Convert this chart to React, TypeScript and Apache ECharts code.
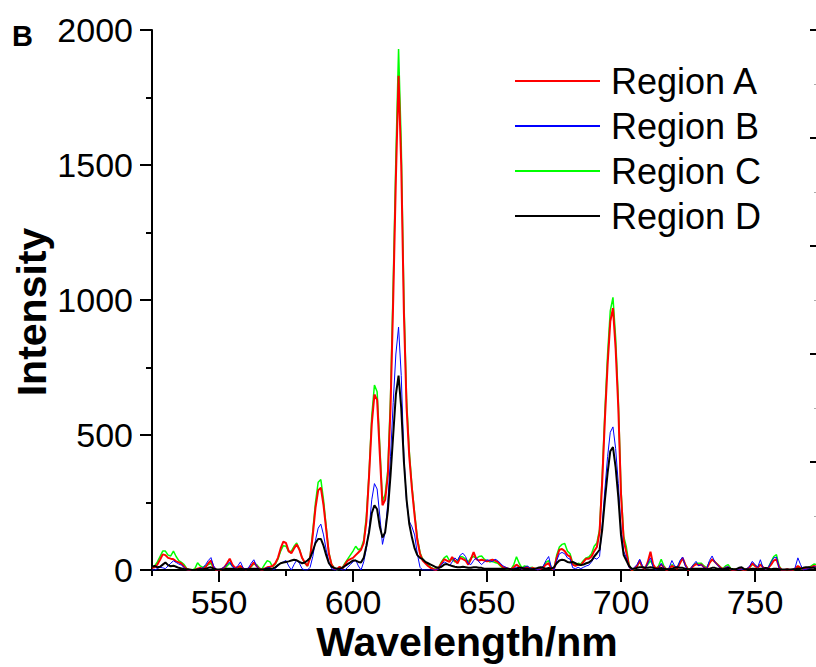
import React, { useEffect, useRef } from "react";
import * as echarts from "echarts";

const START_NM = 525;

// Region A (red)  525..775 nm, 1 nm steps
const regionA = [
  8, 10, 20, 38, 58, 55, 45, 42, 40, 32,
  28, 24, 12, 3, 0, 0, 0, 5, 8, 3,
  10, 25, 35, 10, 0, 0, 3, 10, 25, 42,
  20, 8, 10, 15, 5, 3, 5, 15, 28, 15,
  5, 0, 5, 10, 12, 15, 25, 45, 80, 105,
  100, 70, 62, 80, 95, 75, 45, 28, 15, 45,
  130, 230, 295, 305, 240, 150, 60, 20, 5, 3,
  12, 5, 20, 35, 40, 45, 55, 65, 75, 100,
  180, 350, 540, 650, 630, 430, 240, 260, 350, 600,
  1000, 1450, 1830, 1500, 950, 600, 420, 300, 200, 110,
  60, 35, 25, 15, 8, 3, 0, 8, 25, 40,
  35, 30, 48, 35, 25, 45, 40, 35, 20, 40,
  66, 40, 35, 38, 35, 32, 35, 38, 35, 30,
  20, 10, 8, 5, 3, 10, 20, 12, 5, 8,
  10, 5, 8, 5, 3, 5, 10, 20, 25, 5,
  3, 45, 75, 78, 70, 55, 50, 20, 15, 20,
  18, 30, 42, 42, 50, 70, 85, 140, 330, 560,
  760, 920, 970, 820, 600, 280, 110, 65, 15, 0,
  5, 15, 35, 10, 5, 30, 68, 20, 5, 10,
  20, 10, 0, 5, 15, 10, 5, 25, 45, 20,
  0, 5, 15, 22, 18, 20, 10, 5, 25, 40,
  30, 20, 10, 3, 8, 10, 3, 0, 3, 5,
  3, 0, 3, 10, 25, 15, 8, 20, 10, 5,
  8, 20, 35, 40, 10, 0, 0, 3, 0, 0,
  5, 15, 8, 3, 5, 8, 10, 15, 12, 10,
  8,
];

// Region B (blue)
const regionB = [
  0, 0, 5, 10, 8, 5, 15, 25, 34, 28,
  22, 18, 10, 0, 0, 0, 0, 3, 5, 8,
  20, 35, 46, 15, 0, 0, 5, 12, 20, 30,
  12, 5, 15, 30, 8, 3, 8, 25, 38, 15,
  3, 0, 5, 8, 10, 0, 5, 15, 25, 30,
  35, 15, 0, 20, 37, 25, 5, 0, 0, 10,
  50, 110, 155, 170, 130, 75, 30, 5, 0, 0,
  5, 0, 0, 10, 20, 30, 37, 15, 0, 30,
  80, 150, 260, 320, 300, 200, 95, 140, 250, 420,
  620, 800, 900, 720, 420, 250, 180, 160, 130, 60,
  10, 0, 0, 0, 0, 0, 0, 5, 20, 30,
  25, 15, 30, 45, 35, 55, 62, 50, 25, 20,
  35, 45, 30, 20, 30, 38, 35, 30, 40, 35,
  25, 15, 10, 5, 0, 5, 10, 8, 3, 10,
  15, 8, 5, 3, 0, 5, 15, 35, 50, 10,
  0, 35, 60, 65, 60, 45, 40, 8, 5, 10,
  5, 10, 15, 18, 30, 45, 40, 50, 170, 300,
  420, 510, 530, 450, 320, 150, 70, 45, 10, 0,
  10, 20, 40, 15, 5, 25, 45, 10, 0, 5,
  25, 8, 0, 10, 35, 15, 10, 35, 48, 15,
  0, 5, 20, 32, 15, 20, 8, 5, 35, 52,
  30, 18, 8, 3, 10, 12, 3, 0, 2, 3,
  3, 0, 5, 15, 32, 20, 10, 38, 8, 3,
  10, 30, 45, 48, 8, 0, 0, 3, 0, 0,
  10, 45, 20, 0, 3, 5, 8, 12, 10, 8,
  5,
];

// Region C (green)
const regionC = [
  10, 15, 30, 50, 70, 70, 55, 52, 70, 50,
  35, 28, 20, 5, 0, 0, 5, 27, 15, 10,
  15, 20, 25, 8, 0, 0, 3, 5, 15, 25,
  15, 5, 5, 10, 3, 3, 5, 12, 22, 20,
  8, 3, 20, 35, 30, 12, 22, 40, 70, 90,
  88, 68, 70, 88, 100, 78, 45, 25, 15, 50,
  145, 250, 325, 335, 260, 160, 65, 22, 8, 0,
  10, 8, 25, 40, 55, 70, 88, 75, 80, 110,
  200, 360, 570, 685, 660, 460, 255, 280, 370, 640,
  1060, 1530, 1930, 1580, 1000, 630, 440, 310, 210, 120,
  65, 40, 30, 20, 10, 5, 3, 10, 30, 45,
  52, 35, 40, 30, 35, 50, 48, 40, 30, 45,
  50, 42, 50, 52, 40, 35, 30, 32, 28, 25,
  15, 8, 5, 3, 3, 20, 49, 25, 8, 15,
  12, 8, 10, 5, 3, 8, 12, 28, 35, 8,
  3, 55, 85, 95, 98, 70, 60, 25, 18, 25,
  22, 35, 45, 48, 60, 88, 100, 150, 350, 590,
  800, 960, 1010, 860, 630, 300, 125, 85, 20, 0,
  3, 15, 30, 10, 8, 20, 35, 15, 5, 15,
  40, 15, 3, 5, 20, 8, 10, 30, 40, 20,
  5, 5, 18, 25, 25, 25, 15, 8, 28, 38,
  30, 22, 12, 5, 15, 20, 5, 3, 3, 5,
  3, 0, 3, 10, 20, 18, 8, 22, 10, 5,
  10, 30, 50, 57, 15, 0, 0, 3, 0, 0,
  3, 10, 5, 3, 5, 10, 15, 22, 20, 15,
  10,
];

// Region D (black)
const regionD = [
  12, 15, 10, 12, 20, 28, 18, 14, 16, 12,
  8, 6, 4, 3, 2, 0, 0, 2, 3, 3,
  5, 8, 10, 5, 3, 2, 2, 3, 5, 5,
  5, 3, 3, 5, 3, 3, 3, 5, 5, 5,
  3, 2, 3, 5, 5, 5, 10, 18, 25, 28,
  30, 32, 35, 38, 36, 30, 25, 28, 35, 45,
  70, 100, 115, 115, 90, 55, 25, 12, 8, 5,
  5, 8, 15, 22, 28, 35, 35, 30, 28, 45,
  90, 140, 210, 240, 225, 160, 120, 140, 220, 350,
  500, 650, 720, 600, 400, 260, 170, 120, 80, 55,
  45, 40, 30, 25, 20, 15, 10, 8, 12, 20,
  22, 18, 15, 12, 10, 10, 12, 10, 8, 8,
  10, 10, 8, 8, 5, 5, 5, 5, 5, 5,
  5, 5, 5, 5, 3, 3, 5, 8, 8, 5,
  5, 3, 3, 5, 8, 10, 8, 5, 8, 5,
  10, 25, 35, 38, 36, 30, 28, 30, 25, 20,
  18, 20, 25, 28, 35, 50, 62, 75, 150, 260,
  360, 440, 455, 380, 270, 130, 55, 35, 15, 5,
  5, 8, 10, 10, 8, 8, 10, 8, 5, 5,
  8, 5, 3, 3, 5, 8, 10, 8, 8, 5,
  3, 3, 5, 5, 5, 5, 5, 3, 5, 8,
  8, 5, 5, 3, 5, 8, 5, 3, 3, 8,
  10, 3, 3, 3, 5, 5, 3, 5, 5, 8,
  5, 3, 5, 5, 3, 2, 2, 2, 2, 3,
  3, 5, 5, 8, 10, 10, 8, 8, 5, 5,
  5,
];

const seriesNames = ["Region A", "Region B", "Region C", "Region D"];
const xLabelTicks = [550, 600, 650, 700, 750];
const xMinorTicks = [525, 575, 625, 675, 725, 775];
const xTopTicks = [525, 550, 575, 600, 625, 650, 675, 700, 725, 750, 775];

const wavelengths = regionA.map((_, i) => START_NM + i);
const pairs = (vals: number[]) => wavelengths.map((w, i) => [w, vals[i]]);

const FONT = "'Liberation Sans', Arial, sans-serif";

export default function App() {
  const ref = useRef<HTMLDivElement>(null);
  useEffect(() => {
    if (!ref.current) return;
    const chart = echarts.init(ref.current, null, { renderer: "svg" });
    const gridBox = { left: 152, top: 30, right: -6, bottom: 97, containLabel: false, outerBoundsMode: "none" };
    const mk = (name: string, vals: number[], color: string, width: number, z: number) => ({
      name,
      type: "line",
      data: pairs(vals),
      xAxisIndex: 0,
      yAxisIndex: 0,
      symbol: "none",
      showSymbol: false,
      z,
      itemStyle: { color },
      lineStyle: { color, width },
      emphasis: { disabled: true },
    });
    chart.setOption({
      animation: false,
      backgroundColor: "#fff",
      grid: [gridBox, { ...gridBox }],
      legend: {
        orient: "vertical",
        left: 515,
        top: 61,
        padding: 0,
        itemWidth: 85,
        itemHeight: 2,
        itemGap: 5,
        icon: "rect",
        data: seriesNames,
        textStyle: { fontSize: 36, fontFamily: FONT, color: "#000", lineHeight: 40, padding: [0, 0, 0, 6] },
      },
      xAxis: [
        {
          type: "value",
          gridIndex: 0,
          position: "bottom",
          min: 525,
          max: 775,
          axisLine: { show: true, lineStyle: { color: "#000", width: 2 } },
          axisTick: { show: true, customValues: xLabelTicks, length: 12, lineStyle: { color: "#000", width: 2 } },
          axisLabel: {
            customValues: xLabelTicks,
            formatter: (v: number) => String(v),
            fontSize: 34,
            fontFamily: FONT,
            color: "#000",
            margin: 15,
          },
          splitLine: { show: false },
        },
        {
          type: "value",
          gridIndex: 0,
          position: "top",
          min: 525,
          max: 775,
          axisLine: { show: true, lineStyle: { color: "#000", width: 2 } },
          axisTick: { show: true, inside: true, customValues: xTopTicks, length: 5, lineStyle: { color: "#000", width: 2 } },
          axisLabel: { show: false },
          splitLine: { show: false },
        },
        {
          type: "value",
          gridIndex: 1,
          position: "bottom",
          min: 525,
          max: 775,
          axisLine: { show: false },
          axisTick: { show: true, customValues: xMinorTicks, length: 6, lineStyle: { color: "#000", width: 2 } },
          axisLabel: { show: false },
          splitLine: { show: false },
        },
      ],
      yAxis: [
        {
          type: "value",
          gridIndex: 0,
          position: "left",
          min: 0,
          max: 2000,
          interval: 500,
          axisLine: { show: true, lineStyle: { color: "#000", width: 2 } },
          axisTick: { show: true, length: 12, lineStyle: { color: "#000", width: 2 } },
          minorTick: { show: true, splitNumber: 2, length: 6, lineStyle: { color: "#000", width: 2 } },
          axisLabel: {
            formatter: (v: number) => String(v),
            fontSize: 34,
            fontFamily: FONT,
            color: "#000",
            margin: 19,
          },
          splitLine: { show: false },
          minorSplitLine: { show: false },
        },
        {
          type: "value",
          gridIndex: 0,
          position: "right",
          min: 0,
          max: 2500,
          interval: 500,
          axisLine: { show: true, lineStyle: { color: "#000", width: 2 } },
          axisTick: { show: true, inside: true, length: 12, lineStyle: { color: "#000", width: 2 } },
          minorTick: { show: true, splitNumber: 2, length: 8, lineStyle: { color: "#aaa", width: 1 } },
          axisLabel: { show: false },
          splitLine: { show: false },
          minorSplitLine: { show: false },
        },
        {
          type: "value",
          gridIndex: 1,
          min: 0,
          max: 2000,
          show: false,
        },
      ],
      series: [
        mk("Region C", regionC, "#00ff00", 1.5, 2),
        mk("Region A", regionA, "#ff0000", 2, 3),
        mk("Region B", regionB, "#0000ff", 1, 4),
        mk("Region D", regionD, "#000000", 2, 5),
      ],
      graphic: [
        {
          type: "text",
          x: 12,
          y: 36,
          style: { text: "B", font: `bold 29px ${FONT}`, fill: "#000", textAlign: "left", textVerticalAlign: "middle" },
        },
        {
          type: "text",
          x: 467,
          y: 642,
          style: { text: "Wavelength/nm", font: `bold 41px ${FONT}`, fill: "#000", textAlign: "center", textVerticalAlign: "middle" },
        },
        {
          type: "text",
          x: 32,
          y: 312,
          rotation: Math.PI / 2,
          style: { text: "Intensity", font: `bold 41px ${FONT}`, fill: "#000", textAlign: "center", textVerticalAlign: "middle" },
        },
      ],
    });
    return () => chart.dispose();
  }, []);
  return (
    <div
      ref={ref}
      style={{ position: "fixed", left: 0, top: 0, width: 816, height: 667, background: "#fff" }}
    />
  );
}
